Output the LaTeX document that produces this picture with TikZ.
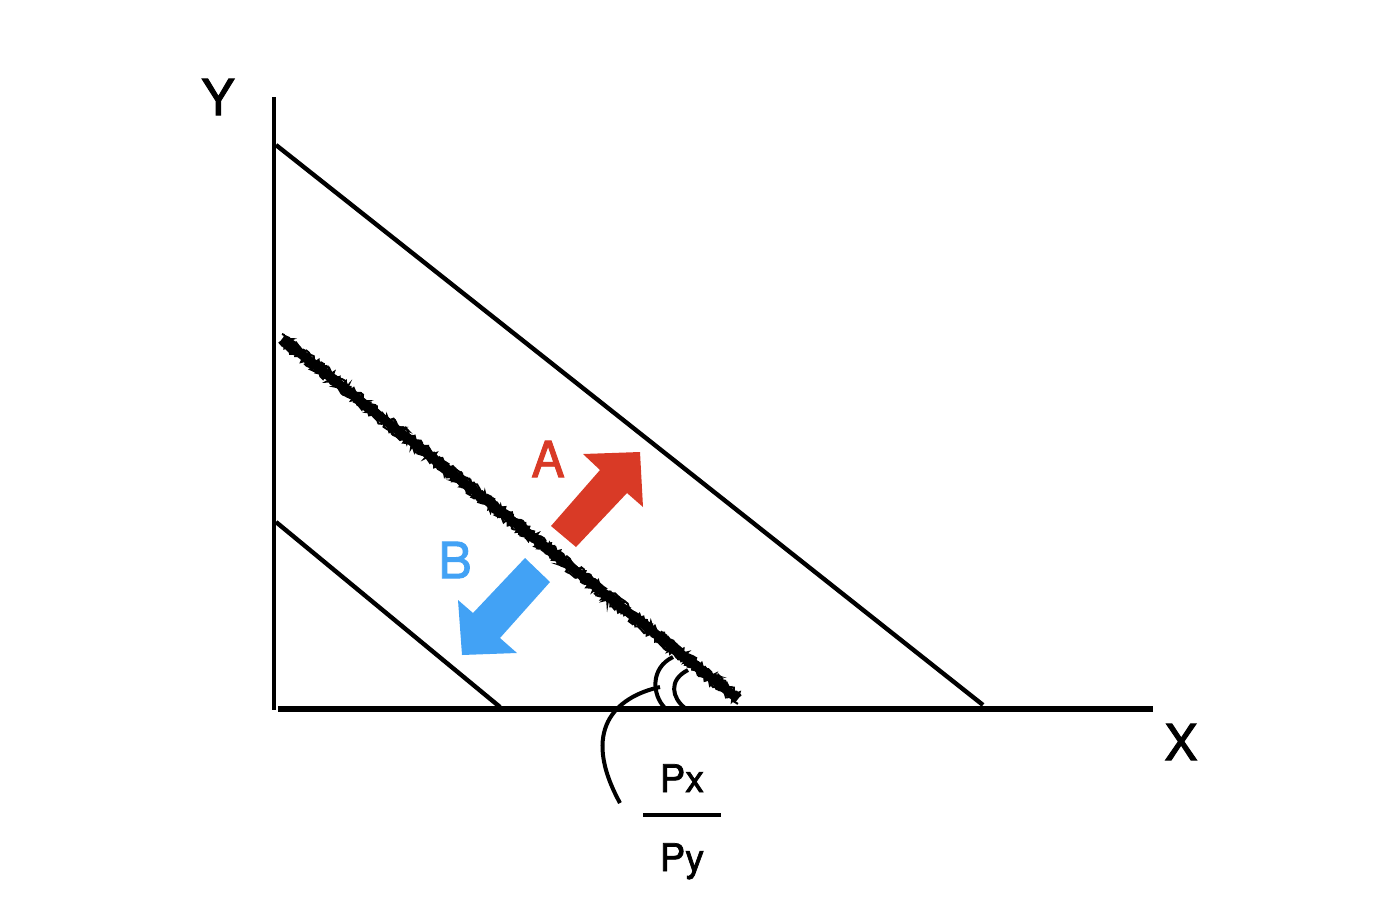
\documentclass[tikz,border=0pt]{standalone}
\usepackage{fontspec}
\setmainfont{TeX Gyre Heros}[FakeBold=1.8]
\usetikzlibrary{decorations.pathmorphing,calc}
\definecolor{ared}{HTML}{D93A26}
\definecolor{bblue}{HTML}{42A2F5}
\tikzset{
  yaxisline/.style={line width=2.3pt, black},
  xaxisline/.style={line width=2.9pt, black},
  budget/.style={line width=2.2pt, black},
  rough/.style={line width=1pt, black, decorate, decoration={random steps, segment length=1.2pt, amplitude=1.3pt}},
  arcline/.style={line width=2pt, black},
  lbl/.style={font=\fontsize{25}{30}\selectfont, inner sep=0pt},
  frac/.style={font=\fontsize{19}{22}\selectfont, inner sep=0pt, anchor=base},
}
\begin{document}
\begin{tikzpicture}[x=0.5pt,y=-0.5pt]
\useasboundingbox (0,0) rectangle (1386,906);
% axes
\coordinate (ytop) at (274,97);
\coordinate (ybot) at (274,710);
\coordinate (xl) at (278,709);
\coordinate (xr) at (1153,709);
\draw[yaxisline] (ytop) -- (ybot);
\draw[xaxisline] (xl) -- (xr);
\node[lbl] (ylab) at (218,97) {Y};
\node[lbl] (xlab) at (1181,742) {X};
% budget lines
\coordinate (t1) at (276,145);
\coordinate (t2) at (983,705);
\coordinate (b1) at (276,522);
\coordinate (b2) at (500,707);
\draw[budget] (t1) -- (t2);
\draw[budget] (b1) -- (b2);
% rough middle line
\coordinate (m1) at (282,339);
\coordinate (m2) at (738,699);
\pgfmathsetseed{7}
\draw[line width=4.6pt] (m1) -- (m2);
\draw[rough] ($(m1)+(0,-5)$) -- ($(m2)+(0,-5)$);
\draw[rough] ($(m1)+(0,5)$) -- ($(m2)+(0,5)$);
\draw[rough] ($(m1)+(3,-3)$) -- ($(m2)+(3,-3)$);
\draw[rough] ($(m1)+(-3,3)$) -- ($(m2)+(-3,3)$);
% arrows
\fill[ared] (551,526) -- (600,470) -- (583,454) -- (640,452) -- (643,507) -- (627,493) -- (576,547) -- cycle;
\node[lbl, text=ared] (alab) at (548,459) {A};
\fill[bblue] (525,558) -- (473,613) -- (458,600) -- (462,655) -- (517,653) -- (500,638) -- (550,582) -- cycle;
\node[lbl, text=bblue] (blab) at (455,560) {B};
% angle arcs
\draw[arcline] (673,657) .. controls (650,668) and (652,695) .. (665,708);
\draw[arcline] (688,670) .. controls (668,680) and (672,698) .. (685,708);
% pointer
\coordinate (p0) at (660,687);
\coordinate (p1) at (620,803);
\draw[arcline] (p0) .. controls (615,697) and (580,730) .. (p1);
% fraction
\node[frac] (px) at (682,792) {Px};
\coordinate (f1) at (643,815);
\coordinate (f2) at (721,815);
\draw[line width=1.6pt] (f1) -- (f2);
\node[frac] (py) at (682,871) {Py};
\end{tikzpicture}
\end{document}
